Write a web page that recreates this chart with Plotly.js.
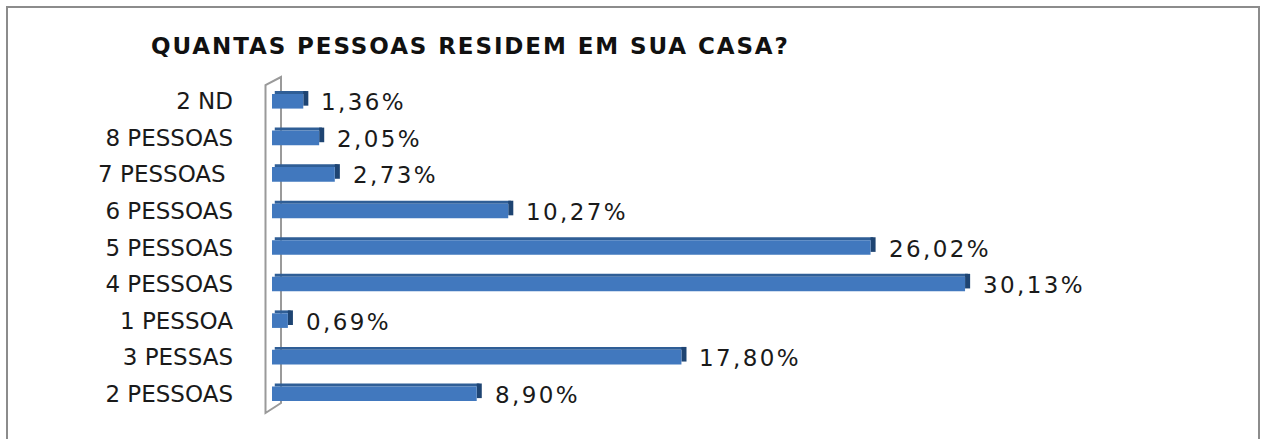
<!DOCTYPE html>
<html>
<head>
<meta charset="utf-8">
<script src="https://cdn.plot.ly/plotly-3.0.1.min.js"></script>
<style>
  html, body { margin: 0; padding: 0; background: #ffffff; }
  #wrap { position: relative; width: 1264px; height: 439px; overflow: hidden; }
  #frame { position: absolute; left: 6px; top: 6px; width: 1250px; height: 520px;
           border: 2px solid #8c8c8c; pointer-events: none; z-index: 2; }
  #chart { position: absolute; left: 0; top: 0; width: 1264px; height: 439px; }
  #chart .gtitle { letter-spacing: 1.9px; }
  #chart .annotation-text { letter-spacing: 2.4px; }
</style>
</head>
<body>
<div id="wrap">
  <div id="chart"></div>
  <div id="frame"></div>
</div>
<script>
// Categories listed bottom to top, as in the chart
var categories = ['2 PESSOAS', '3 PESSAS', '1 PESSOA', '4 PESSOAS', '5 PESSOAS',
                  '6 PESSOAS', '7 PESSOAS\u00a0', '8 PESSOAS', '2 ND'];
var percentages = [8.90, 17.80, 0.69, 30.13, 26.02, 10.27, 2.73, 2.05, 1.36];
var valueLabels = ['8,90%', '17,80%', '0,69%', '30,13%', '26,02%',
                   '10,27%', '2,73%', '2,05%', '1,36%'];
var chartTitle = 'QUANTAS PESSOAS RESIDEM EM SUA CASA?';

var frontColor = '#4178be';
var topColor = '#2f5e96';
var endColor = '#1e4472';
var depth = 0.22; // visual depth of the 3D bar end, in axis units

// top face of each bar
var topFace = {
  type: 'bar', orientation: 'h',
  y: categories,
  x: percentages,
  base: percentages.map(function () { return 0.12; }),
  width: 0.08, offset: 0.2,
  marker: { color: topColor, line: { width: 0 } },
  hoverinfo: 'skip', showlegend: false
};
// end face of each bar
var endFace = {
  type: 'bar', orientation: 'h',
  y: categories,
  x: percentages.map(function () { return depth; }),
  base: percentages,
  width: 0.4, offset: -0.12,
  marker: { color: endColor, line: { width: 0 } },
  hoverinfo: 'skip', showlegend: false
};
// front face
var front = {
  type: 'bar', orientation: 'h',
  y: categories,
  x: percentages,
  width: 0.4, offset: -0.2,
  marker: { color: frontColor, line: { width: 0 } },
  hoverinfo: 'skip', showlegend: false
};

var annotations = percentages.map(function (v, i) {
  return {
    x: v, y: categories[i], xref: 'x', yref: 'y',
    text: valueLabels[i], showarrow: false,
    width: 140, align: 'left',
    xanchor: 'left', yanchor: 'middle', xshift: 16, yshift: -1,
    font: { family: 'DejaVu Sans', size: 23, color: '#1a1a1a' }
  };
});

var W = 1264, H = 439;
var mL = 272, mR = 65, mT = 83, mB = 27;
var pw = W - mL - mR, ph = H - mT - mB;
function px(x) { return (x - mL) / pw; }
function py(y) { return (H - mB - y) / ph; }
var wallPath = 'M ' + px(265.5) + ',' + py(413) + ' L ' + px(265.5) + ',' + py(85) +
               ' L ' + px(281) + ',' + py(77) + ' L ' + px(281) + ',' + py(403) + ' Z';

var layout = {
  width: W, height: H,
  margin: { l: mL, r: mR, t: mT, b: mB, pad: 0 },
  paper_bgcolor: '#ffffff', plot_bgcolor: 'rgba(0,0,0,0)',
  barmode: 'overlay',
  title: {
    text: '<b>' + chartTitle + '</b>',
    font: { family: 'DejaVu Sans', size: 23, color: '#111111' },
    xref: 'container', yref: 'container',
    x: 151 / W, xanchor: 'left',
    y: 1 - 46 / H, yanchor: 'middle'
  },
  xaxis: { range: [0, 40.3], showgrid: false, zeroline: false, showline: false,
           showticklabels: false, ticks: '', fixedrange: true },
  yaxis: { type: 'category', categoryorder: 'array', categoryarray: categories,
           range: [-0.5, 8.5], showgrid: false, zeroline: false, showline: false,
           ticks: '', ticklabelstandoff: 38,
           tickfont: { family: 'DejaVu Sans', size: 23, color: '#1a1a1a' },
           automargin: false, fixedrange: true },
  shapes: [{
    type: 'path', xref: 'paper', yref: 'paper', layer: 'below',
    path: wallPath, line: { color: '#9a9a9a', width: 2 }, fillcolor: 'rgba(0,0,0,0)'
  }],
  annotations: annotations,
  showlegend: false
};

Plotly.newPlot('chart', [topFace, endFace, front], layout, { displayModeBar: false, staticPlot: true });
</script>
</body>
</html>
